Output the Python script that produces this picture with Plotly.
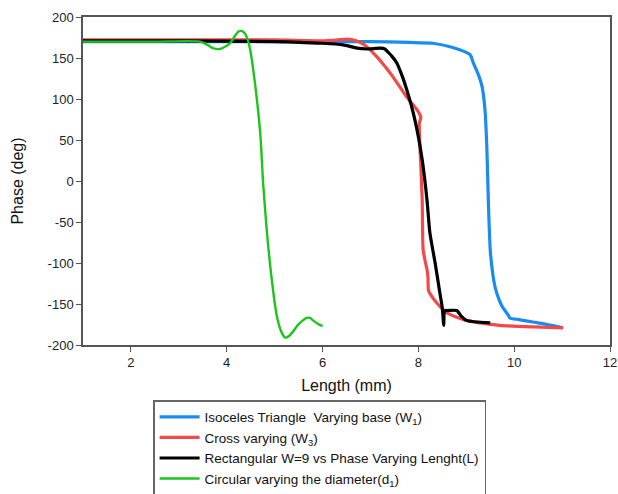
import plotly.graph_objects as go

# Isoceles Triangle varying base (W1)
tri_x = [1.0, 3.0, 5.0, 7.0, 7.8, 8.3, 8.7, 9.08, 9.14, 9.25, 9.33, 9.39, 9.43, 9.46, 9.50, 9.55, 9.60, 9.68, 9.75, 9.87, 9.91, 10.1, 10.39, 10.7, 11.02]
tri_y = [170, 170, 170, 170, 169, 168, 163, 154, 145, 130, 115, 87, 40, -23, -84, -112, -129, -144, -153, -163, -167, -169, -172, -175, -179]

# Cross varying (W3)
cross_x = [1.0, 3.0, 5.0, 6.0, 6.3, 6.51, 6.7, 6.9, 7.14, 7.47, 7.76, 7.97, 8.05, 8.02, 8.05, 8.08, 8.10, 8.15, 8.18, 8.20, 8.21, 8.25, 8.39, 8.6, 9.0, 9.7, 10.4, 11.02]
cross_y = [172, 172, 172, 171, 172, 173, 171, 165, 151, 127, 102, 87, 78, 70, 20, -23, -84, -100, -108, -117, -133, -138, -149, -161, -170, -176, -178, -179]

# Rectangular W=9 vs phase varying length (L)
rect_x = [1.0, 3.0, 5.0, 5.53, 6.0, 6.43, 6.72, 6.93, 7.2, 7.3, 7.37, 7.45, 7.55, 7.65, 7.76, 7.93, 8.08, 8.18, 8.24, 8.35, 8.45, 8.50, 8.53, 8.55, 8.62, 8.8, 8.9, 9.0, 9.5]
rect_y = [171, 171, 170, 169, 168, 166, 162, 161, 162, 161, 157, 152, 144, 130, 111, 74, 26, -23, -63, -100, -137, -155, -176, -158, -158, -158, -165, -170, -173]

# Circular varying the diameter (d1)
circ_x = [1.0, 2.5, 3.44, 3.6, 3.71, 3.86, 4.0, 4.07, 4.16, 4.24, 4.31, 4.38, 4.44, 4.49, 4.59, 4.70, 4.76, 4.84, 4.95, 5.05, 5.14, 5.22, 5.30, 5.38, 5.48, 5.59, 5.67, 5.74, 5.8, 5.9, 6.0]
circ_y = [170, 170, 170, 166, 162, 161, 165, 168, 176, 182, 183, 180, 172, 160, 119, 58, -3, -63, -125, -166, -184, -191, -189, -184, -176, -170, -167, -167, -170, -174, -177]

x_ticks = [2, 4, 6, 8, 10, 12]
y_ticks = [-200, -150, -100, -50, 0, 50, 100, 150, 200]

names = [
    "Isoceles Triangle&nbsp; Varying base (W<sub>1</sub>)",
    "Cross varying (W<sub>3</sub>)",
    "Rectangular W=9 vs Phase Varying Lenght(L)",
    "Circular varying the diameter(d<sub>1</sub>)",
]
colors = ["#1a8cf0", "#f24a4a", "#000000", "#1ec41e"]
widths = [3.2, 3.2, 3.2, 2.4]
xs = [tri_x, cross_x, rect_x, circ_x]
ys = [tri_y, cross_y, rect_y, circ_y]

fig = go.Figure()
for x, y, n, c, w in zip(xs, ys, names, colors, widths):
    fig.add_trace(go.Scatter(x=x, y=y, mode="lines", name=n,
                             line=dict(color=c, width=w, shape="spline", smoothing=0.6)))

axis_common = dict(showgrid=False, zeroline=False, showline=True, linecolor="#555555",
                   linewidth=1.5, mirror=True, ticks="outside", ticklen=5,
                   tickcolor="#555555", tickfont=dict(size=13, color="#222"),
                   ticklabeloverflow="allow")
fig.update_xaxes(range=[1, 12], tickvals=x_ticks, ticktext=[str(v) for v in x_ticks],
                 title=dict(text="Length (mm)", font=dict(size=16, color="#111"), standoff=10),
                 **axis_common)
fig.update_yaxes(range=[-200, 200], tickvals=y_ticks, ticktext=[str(v) for v in y_ticks],
                 title=dict(text="Phase (deg)", font=dict(size=16, color="#111"), standoff=20),
                 **axis_common)

fig.update_layout(
    width=618, height=494,
    margin=dict(l=83, r=8, t=17, b=149, autoexpand=False),
    paper_bgcolor="white", plot_bgcolor="white",
    font=dict(family="Liberation Sans, Arial, sans-serif"),
    showlegend=True,
    legend=dict(x=0.133, y=-0.168, xanchor="left", yanchor="top",
                bordercolor="#666666", borderwidth=1.5, bgcolor="white",
                font=dict(size=13.5, color="#111"), itemwidth=40,
                tracegroupgap=0),
)
fig.write_html("out.html", config={"displayModeBar": False},
               post_script="document.body.style.margin='0';document.body.style.overflow='hidden';")
